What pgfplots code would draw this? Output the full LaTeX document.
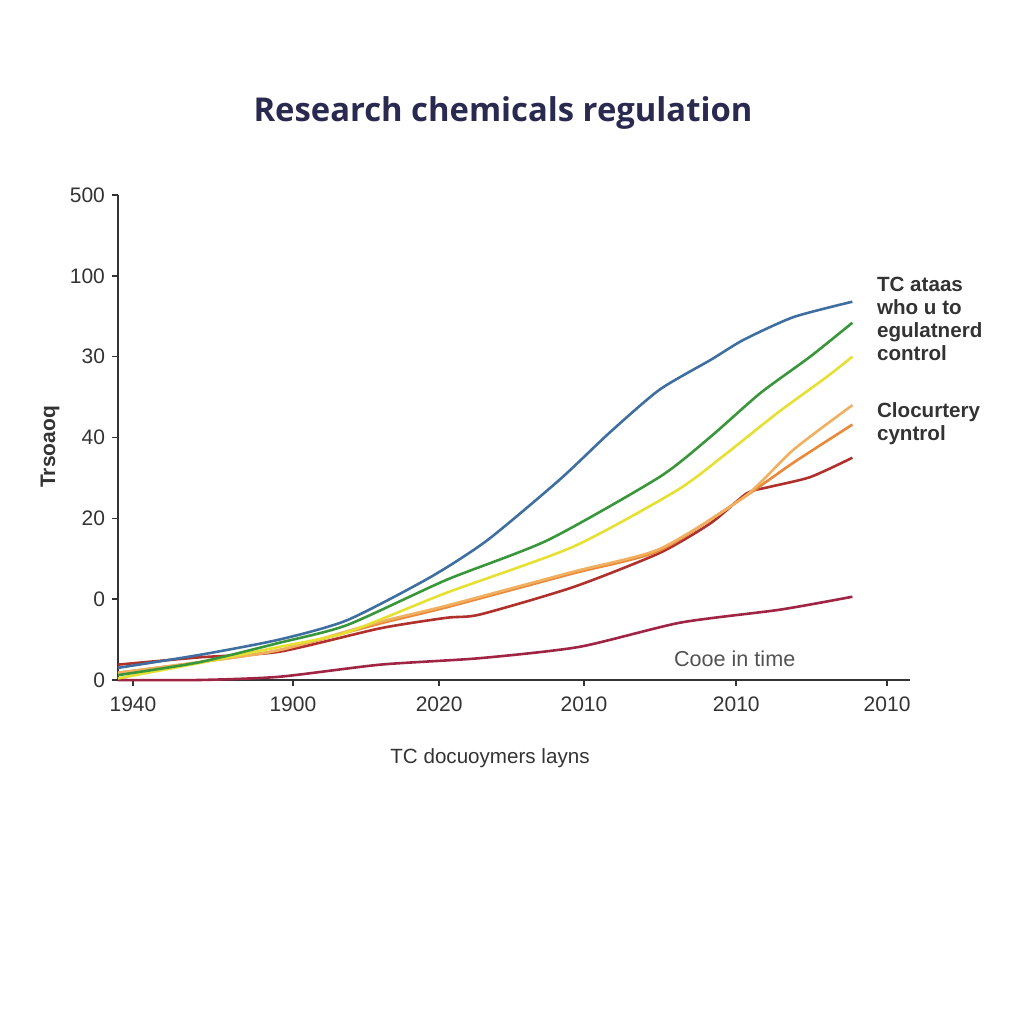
\documentclass[border=0pt]{standalone}
\usepackage{pgfplots}
\pgfplotsset{compat=1.18}
\usepackage{fontspec}
\setmainfont{Liberation Sans}
\newfontfamily\titlefont{Open Sans}
\definecolor{cblue}{HTML}{3F6FA0}
\definecolor{cgreen}{HTML}{3A963A}
\definecolor{cyellow}{HTML}{E6E032}
\definecolor{clorange}{HTML}{F0B060}
\definecolor{corange}{HTML}{E88A3A}
\definecolor{cdred}{HTML}{B0302C}
\definecolor{clred}{HTML}{A02444}
\definecolor{ctxt}{HTML}{333333}
\definecolor{ctitle}{HTML}{2A2A50}
\begin{document}
\begin{tikzpicture}
\begin{axis}[
  scale only axis, width=396pt, height=242.5pt,
  xmin=-0.0995, xmax=5.152, ymin=0, ymax=6,
  axis lines=left, axis line style={-, draw=ctxt, line width=1.1pt},
  xtick={0,1.06,2.03,2.99,4.0,5.0},
  xticklabels={1940,1900,2020,2010,2010,2010},
  ytick={0,1,2,3,4,5,6},
  yticklabels={0,0,20,40,30,100,500},
  tick align=outside, major tick length=3pt,
  tick style={draw=ctxt, line width=0.8pt},
  ticklabel style={font=\fontsize{10.5}{12}\selectfont, text=ctxt},
  xticklabel style={yshift=-2pt},
  /pgf/number format/assume math mode=true,
  clip=false,
  every axis plot/.append style={line width=1.3pt, smooth, tension=0.4, no markers},
]
\addplot[clred] coordinates {(-0.1,0) (0.44,0) (0.97,0.04) (1.64,0.19) (2.30,0.27) (2.96,0.41) (3.63,0.71) (4.29,0.87) (4.77,1.03)};
\addplot[cdred] coordinates {(-0.1,0.19) (0.44,0.28) (0.97,0.35) (1.64,0.64) (2.08,0.77) (2.30,0.81) (2.92,1.15) (3.49,1.57) (3.83,1.94) (4.07,2.31) (4.20,2.38) (4.49,2.51) (4.77,2.75)};
\addplot[corange] coordinates {(-0.1,0.09) (0.44,0.22) (0.97,0.37) (1.64,0.70) (2.08,0.90) (2.92,1.32) (3.49,1.60) (4.05,2.26) (4.38,2.69) (4.77,3.16)};
\addplot[clorange] coordinates {(-0.1,0.09) (0.44,0.22) (0.97,0.37) (1.64,0.72) (2.08,0.92) (2.92,1.34) (3.49,1.62) (4.05,2.26) (4.38,2.85) (4.77,3.40)};
\addplot[cyellow] coordinates {(-0.1,0.02) (0.44,0.21) (0.97,0.41) (1.42,0.59) (2.08,1.08) (2.92,1.65) (3.61,2.35) (3.94,2.81) (4.27,3.30) (4.60,3.75) (4.77,4.00)};
\addplot[cgreen] coordinates {(-0.1,0.06) (0.44,0.22) (0.97,0.46) (1.42,0.68) (2.08,1.24) (2.75,1.73) (3.49,2.51) (3.83,3.01) (4.16,3.55) (4.49,4.00) (4.77,4.42)};
\addplot[cblue] coordinates {(-0.1,0.15) (0.44,0.31) (0.97,0.50) (1.42,0.74) (1.97,1.27) (2.35,1.73) (2.83,2.48) (3.16,3.06) (3.49,3.59) (3.83,3.96) (4.05,4.21) (4.38,4.49) (4.77,4.68)};
\coordinate (O) at (rel axis cs:0,0);
\end{axis}
\begin{scope}[shift={(O)}, x=0.5pt, y=-0.5pt, shift={(-118,-680)}]
\path[use as bounding box] (0,0) rectangle (1024,1024);
\node[font=\titlefont\fontsize{16.4}{19}\selectfont\bfseries, text=ctitle] at (503,113) {Research chemicals regulation};
\node[rotate=90, font=\fontsize{10.5}{12}\selectfont\bfseries, text=ctxt] at (50,447) {Trsoaoq};
\node[font=\fontsize{10.3}{12}\selectfont, text=ctxt] at (490,758) {TC docuoymers layns};
\node[anchor=north west, align=left, font=\fontsize{10.3}{11.5}\selectfont\bfseries, text=ctxt] at (870,270) {TC ataas\\who u to\\egulatnerd\\control};
\node[anchor=north west, align=left, font=\fontsize{10.3}{11.5}\selectfont\bfseries, text=ctxt] at (870,396) {Clocurtery\\cyntrol};
\node[anchor=west, font=\fontsize{10.8}{12}\selectfont, text=ctxt!85] at (667,659) {Cooe in time};
\end{scope}
\end{tikzpicture}
\end{document}
